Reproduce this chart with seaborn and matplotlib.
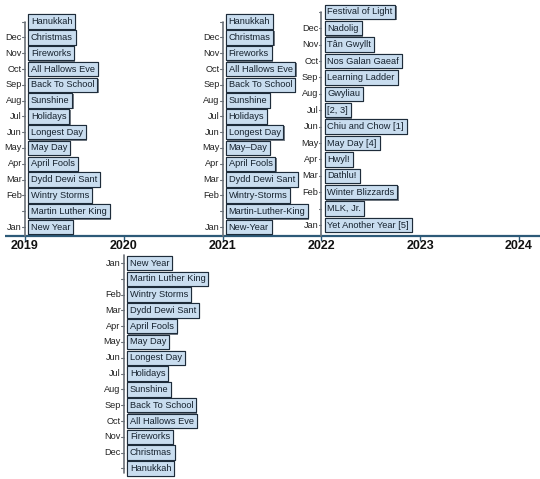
import matplotlib
matplotlib.use("Agg")
import matplotlib.pyplot as plt
import matplotlib.patheffects as pe
import seaborn as sns

# ---------------- data ----------------
years = [2019, 2020, 2021, 2022, 2023, 2024]
month_labels = ["Jan", "", "Feb", "Mar", "Apr", "May", "Jun", "Jul",
                "Aug", "Sep", "Oct", "Nov", "Dec", ""]

events_2019 = ["New Year", "Martin Luther King", "Wintry Storms", "Dydd Dewi Sant",
               "April Fools", "May Day", "Longest Day", "Holidays", "Sunshine",
               "Back To School", "All Hallows Eve", "Fireworks", "Christmas", "Hanukkah"]
events_2020 = ["New Year", "Martin Luther King", "Wintry Storms", "Dydd Dewi Sant",
               "April Fools", "May Day", "Longest Day", "Holidays", "Sunshine",
               "Back To School", "All Hallows Eve", "Fireworks", "Christmas", "Hanukkah"]
events_2021 = ["New-Year", "Martin-Luther-King", "Wintry-Storms", "Dydd Dewi Sant",
               "April Fools", "May\u2013Day", "Longest Day", "Holidays", "Sunshine",
               "Back To School", "All Hallows Eve", "Fireworks", "Christmas", "Hanukkah"]
events_2022 = ["Yet Another Year [5]", "MLK, Jr.", "Winter Blizzards", "Dathlu!",
               "Hwyl!", "May Day [4]", "Chiu and Chow [1]", "[2, 3]", "Gwyliau",
               "Learning Ladder", "Nos Galan Gaeaf", "T\u00e2n Gwyllt", "Nadolig",
               "Festival of Light"]

# ---------------- style / layout ----------------
sns.set_theme(style="white")
plt.rcParams["font.family"] = ["Liberation Sans", "DejaVu Sans"]

W, H = 540, 479
PX_PER_YEAR = 98.8
X0_PX = 25.0
x0 = years[0] - X0_PX / PX_PER_YEAR
x1 = x0 + W / PX_PER_YEAR


def dx(px):
    return px / PX_PER_YEAR


AXIS_Y = 236
# (year, events, first row y, row step) -- layout only
groups = [
    (2019, events_2019, 227, -15.8),
    (2020, events_2020, 263, 15.8),
    (2021, events_2021, 227, -15.8),
    (2022, events_2022, 225, -16.4),
]

fig = plt.figure(figsize=(W / 100, H / 100), dpi=100)
ax = fig.add_axes([0, 0, 1, 1])
ax.set_xlim(x0, x1)
ax.set_ylim(H, 0)
ax.axis("off")

axis_col = "#2d5a78"
line_col = "#6b7178"
box_fc = "#c9ddef"
box_ec = "#1e2c3a"

# main time axis
ax.plot([x0 + dx(5), x1], [AXIS_Y, AXIS_Y], color=axis_col, lw=1.6,
        solid_capstyle="butt", zorder=1)
for yr in years:
    ax.plot([yr, yr], [AXIS_Y, AXIS_Y + 3.5], color=axis_col, lw=1.0, zorder=1)
    ax.text(yr, AXIS_Y + 10, str(yr), ha="center", va="center",
            fontsize=9, fontweight="bold", color="#111111")

for yr, evs, y0, step in groups:
    ys = [y0 + step * i for i in range(len(evs))]
    # vertical year line
    if step < 0:
        ax.plot([yr, yr], [AXIS_Y, ys[-1]], color=line_col, lw=1.2, zorder=1)
    else:
        ax.plot([yr, yr], [ys[0] - 8, ys[-1] + 5], color=line_col, lw=1.2, zorder=1)
    for ev, m, y in zip(evs, month_labels, ys):
        # month tick + label
        ax.plot([yr - dx(2.5), yr], [y, y], color=line_col, lw=0.8, zorder=1)
        if m:
            ax.text(yr - dx(3), y, m, ha="right", va="center",
                    fontsize=6.6, color="#222222")
        t = ax.text(yr + dx(6.0), y, ev, ha="left", va="center",
                    fontsize=6.7, color="#16222e", zorder=3,
                    bbox=dict(boxstyle="square,pad=0.3", fc=box_fc, ec=box_ec, lw=0.8))
        t.get_bbox_patch().set_path_effects(
            [pe.withSimplePatchShadow(offset=(0.8, -0.8), shadow_rgbFace="#1e2c3a", alpha=0.6),
             pe.Normal()])

fig.savefig("out.png", dpi=100, facecolor="white")
